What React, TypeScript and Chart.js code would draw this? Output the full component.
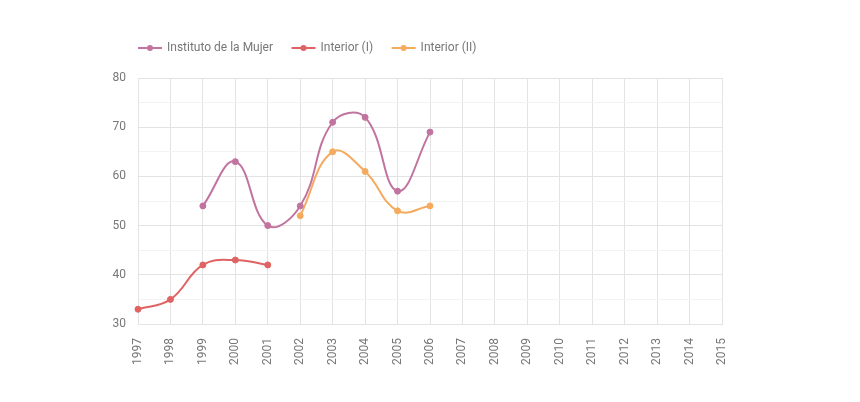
import { useEffect, useRef } from 'react';
import { Chart, registerables } from 'chart.js';

Chart.register(...registerables);

const years = ['1997', '1998', '1999', '2000', '2001', '2002', '2003', '2004', '2005', '2006', '2007', '2008', '2009', '2010', '2011', '2012', '2013', '2014', '2015'];
const institutoMujer = [null, null, 54, 63, 50, 54, 71, 72, 57, 69, null, null, null, null, null, null, null, null, null];
const interiorI = [33, 35, 42, 43, 42, null, null, null, null, null, null, null, null, null, null, null, null, null, null];
const interiorII = [null, null, null, null, null, 52, 65, 61, 53, 54, null, null, null, null, null, null, null, null, null];
const seriesNames = ['Instituto de la Mujer', 'Interior (I)', 'Interior (II)'];
const seriesColors = ['#C0749F', '#E06262', '#F5AB5F'];

const FONT = 'Roboto, "Liberation Sans", Arial, sans-serif';
const TEXT = '#777777';

const legendPlugin = {
  id: 'customLegend',
  afterDraw(chart: any) {
    const ctx = chart.ctx;
    const y = 48;
    let x = chart.chartArea.left;
    ctx.save();
    ctx.font = `12px ${FONT}`;
    ctx.textBaseline = 'middle';
    chart.data.datasets.forEach((ds: any) => {
      ctx.strokeStyle = ds.borderColor;
      ctx.lineWidth = 2;
      ctx.beginPath();
      ctx.moveTo(x, y);
      ctx.lineTo(x + 24, y);
      ctx.stroke();
      ctx.fillStyle = ds.borderColor;
      ctx.beginPath();
      ctx.arc(x + 12, y, 3, 0, Math.PI * 2);
      ctx.fill();
      ctx.fillStyle = TEXT;
      ctx.fillText(ds.label, x + 29, y);
      x += 29 + ctx.measureText(ds.label).width + 18.5;
    });
    ctx.restore();
  },
};

export default function App() {
  const ref = useRef<HTMLCanvasElement | null>(null);
  useEffect(() => {
    if (!ref.current) return;
    const data = [institutoMujer, interiorI, interiorII];
    const chart = new Chart(ref.current, {
      type: 'line',
      data: {
        labels: years,
        datasets: data.map((d, i) => ({
          label: seriesNames[i],
          data: d,
          borderColor: seriesColors[i],
          backgroundColor: seriesColors[i],
          pointBackgroundColor: seriesColors[i],
          pointBorderColor: seriesColors[i],
          pointRadius: 3,
          pointBorderWidth: 1,
          borderWidth: 2,
          tension: 0.42,
          fill: false,
          spanGaps: false,
        })),
      },
      options: {
        animation: false,
        responsive: true,
        maintainAspectRatio: false,
        layout: { padding: { top: 78, left: 98, right: 138, bottom: 0 } },
        plugins: {
          legend: { display: false },
          tooltip: { enabled: false },
        },
        scales: {
          x: {
            type: 'category',
            offset: false,
            grid: { color: '#e3e3e3', drawTicks: false },
            border: { color: '#e3e3e3' },
            ticks: {
              minRotation: 90,
              maxRotation: 90,
              padding: 14,
              color: TEXT,
              font: { family: FONT, size: 12 },
              autoSkip: false,
            },
            afterFit: (s: any) => { s.height = 78; },
          },
          y: {
            min: 30,
            max: 80,
            grid: {
              drawTicks: false,
              color: (c: any) => (c.tick && c.tick.value % 10 === 0 ? '#e3e3e3' : '#f3f3f3'),
            },
            border: { color: '#e3e3e3' },
            ticks: {
              stepSize: 5,
              padding: 12,
              color: TEXT,
              font: { family: FONT, size: 12 },
              callback: (v: any) => (Number(v) % 10 === 0 ? String(v) : ''),
            },
            afterFit: (s: any) => { s.width = 40; },
          },
        },
      },
      plugins: [legendPlugin],
    });
    return () => chart.destroy();
  }, []);
  return (
    <div style={{ position: 'fixed', left: 0, top: 0, width: 860, height: 402, background: '#fff' }}>
      <canvas ref={ref} />
    </div>
  );
}
